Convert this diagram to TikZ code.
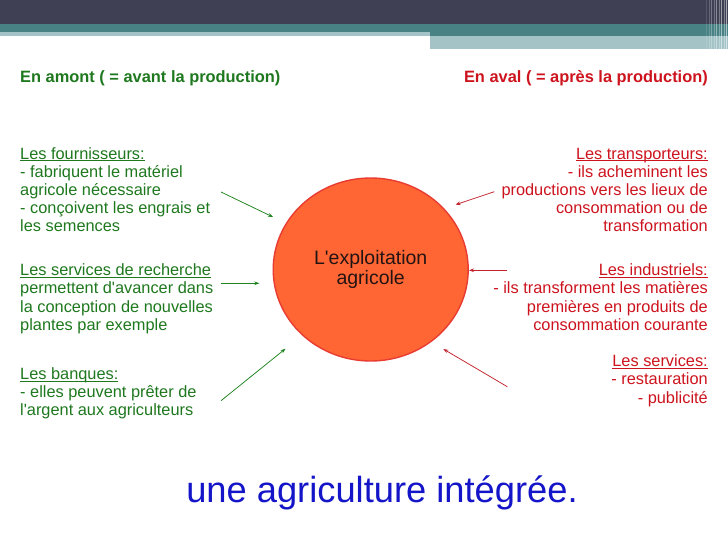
\documentclass[tikz,border=0pt]{standalone}
\usepackage{fontspec}
\setmainfont{Liberation Sans}
\usetikzlibrary{arrows.meta,shapes.geometric}
\definecolor{hdark}{RGB}{64,64,84}
\definecolor{hteal}{RGB}{72,130,133}
\definecolor{hlight}{RGB}{163,195,198}
\definecolor{txtgreen}{RGB}{30,120,30}
\definecolor{txtred}{RGB}{205,20,30}
\definecolor{arrgreen}{RGB}{30,130,30}
\definecolor{arrred}{RGB}{195,35,45}
\definecolor{circfill}{RGB}{255,102,51}
\definecolor{circdraw}{RGB}{232,60,50}
\definecolor{txtblue}{RGB}{20,20,200}
\newsavebox{\myulbox}
\newcommand{\myul}[1]{\sbox{\myulbox}{#1}\rlap{\raisebox{-2.2pt}{\rule{\wd\myulbox}{0.8pt}}}\usebox{\myulbox}}
\tikzset{
  bodytext/.style={inner sep=0pt, font=\fontsize{16.35}{18.2}\selectfont},
  lefttext/.style={bodytext, text=txtgreen, align=left, anchor=base west},
  righttext/.style={bodytext, text=txtred, align=right, anchor=base east},
  titletext/.style={inner sep=0pt, font=\fontsize{16.4}{18.2}\selectfont\bfseries},
  greenarrow/.style={draw=arrgreen, line width=0.75pt, -{Stealth[length=5pt,width=3.6pt]}},
  redarrow/.style={draw=arrred, line width=0.75pt, -{Stealth[length=5pt,width=3.6pt]}}
}
\begin{document}
\begin{tikzpicture}[x=1pt,y=-1pt]
\useasboundingbox (0,0) rectangle (728,546);
\fill[white] (0,0) rectangle (728,546);
% header
\fill[hdark] (0,0) rectangle (728,24);
\fill[hteal] (0,24) rectangle (430,32);
\fill[hteal] (430,24) rectangle (728,36);
\fill[hlight] (0,32) rectangle (430,35.5);
\fill[hlight] (430,36) rectangle (728,49);
\foreach \xx/\op in {706/0.12,709/0.2,711/0.3,714/0.25,716/0.4,719/0.3,721/0.5,724/0.35,726/0.55}
  \fill[white,opacity=\op] (\xx,0) rectangle (\xx+1.2,49);
% titles
\node[titletext, text=txtgreen, anchor=base west] (tleft) at (20,82) {En amont ( = avant la production)};
\node[titletext, text=txtred, anchor=base east] (tright) at (708,82) {En aval ( = après la production)};
% central ellipse
\node[ellipse, fill=circfill, draw=circdraw, line width=1.4pt, minimum width=195pt, minimum height=183pt, inner sep=0pt,
      align=center, text={rgb,255:red,35;green,20;blue,20}, font=\fontsize{19.5}{20.7}\selectfont] (farm) at (370.7,269.5)
  {L\textquotesingle exploitation\\agricole};
% left texts (anchored at the baseline of their last line)
\node[lefttext] (four) at (20,231.8) {\myul{Les fournisseurs:}\\- fabriquent le matériel\\agricole nécessaire\\- conçoivent les engrais et\\les semences};
\node[lefttext] (rech) at (20,330.3) {\myul{Les services de recherche}\\permettent d\textquotesingle avancer dans\\la conception de nouvelles\\plantes par exemple};
\node[lefttext] (banq) at (20,415.7) {\myul{Les banques:}\\- elles peuvent prêter de\\l\textquotesingle argent aux agriculteurs};
% right texts
\node[righttext] (trans) at (708,231.8) {\myul{Les transporteurs:}\\- ils acheminent les\\productions vers les lieux de\\consommation ou de\\transformation};
\node[righttext] (indus) at (708,330.3) {\myul{Les industriels:}\\- ils transforment les matières\\premières en produits de\\consommation courante};
\node[righttext] (serv) at (708,403.1) {\myul{Les services:}\\- restauration\\- publicité};
% arrow endpoints
\coordinate (a1s) at (221,192);   \coordinate (a1e) at (273,217);
\coordinate (a2s) at (221,283.3); \coordinate (a2e) at (259.3,283.3);
\coordinate (a3s) at (221,400.7); \coordinate (a3e) at (285.5,348.7);
\coordinate (b1s) at (494.3,191.7); \coordinate (b1e) at (455.5,204.7);
\coordinate (b2s) at (507.3,270.3); \coordinate (b2e) at (469,270.3);
\coordinate (b3s) at (507.3,386.7); \coordinate (b3e) at (443.3,349);
\draw[greenarrow] (a1s) -- (a1e);
\draw[greenarrow] (a2s) -- (a2e);
\draw[greenarrow] (a3s) -- (a3e);
\draw[redarrow] (b1s) -- (b1e);
\draw[redarrow] (b2s) -- (b2e);
\draw[redarrow] (b3s) -- (b3e);
% bottom text
\node[inner sep=0pt, anchor=base, text=txtblue, font=\fontsize{36.3}{40}\selectfont] (concl) at (382,502.5) {une agriculture intégrée.};
\end{tikzpicture}
\end{document}
